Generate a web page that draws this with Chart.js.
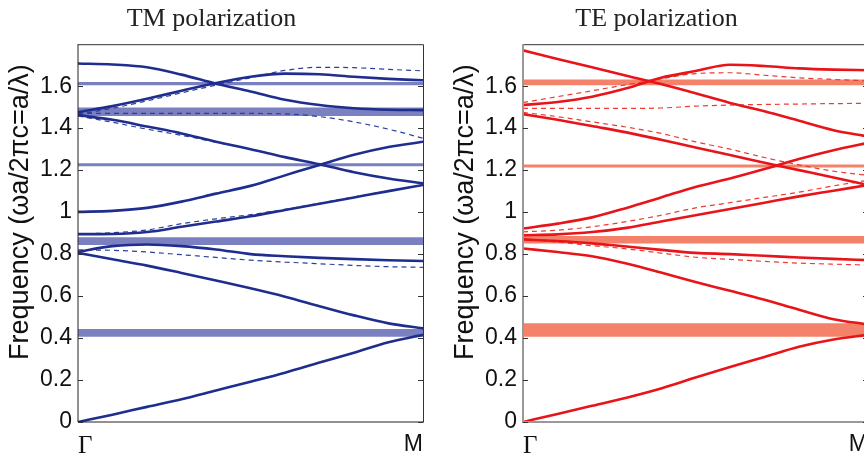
<!DOCTYPE html>
<html>
<head>
<meta charset="utf-8">
<script src="https://cdn.jsdelivr.net/npm/chart.js@4.4.0/dist/chart.umd.min.js"></script>
<style>
  html, body { margin: 0; padding: 0; background: #fff; overflow: hidden; }
  #wrap { position: relative; width: 864px; height: 459px; overflow: hidden; }
  #tm { position: absolute; left: 0; top: 0; }
  #te { position: absolute; left: 432px; top: 0; }
</style>
</head>
<body>
<div id="wrap">
  <canvas id="tm" width="432" height="459"></canvas>
  <canvas id="te" width="448" height="459"></canvas>
</div>
<script>
// wave vector along the Γ -> M direction, normalised to 0..1
var kPath = [0, 0.1, 0.2, 0.3, 0.4, 0.5, 0.6, 0.7, 0.8, 0.9, 1.0];
var freqTicks = [0, 0.2, 0.4, 0.6, 0.8, 1, 1.2, 1.4, 1.6];
var kLabels = ['Γ', 'M'];
var freqTitle = 'Frequency (ωa/2πc=a/λ)';

// TM bands (solid) and the weaker dashed branches
var tm1 = [0, 0.035, 0.072, 0.108, 0.15, 0.192, 0.235, 0.283, 0.33, 0.38, 0.415];
var tm2 = [0.806, 0.775, 0.745, 0.71, 0.674, 0.637, 0.597, 0.552, 0.508, 0.47, 0.446];
var tm3 = [0.811, 0.838, 0.846, 0.838, 0.822, 0.80, 0.79, 0.782, 0.776, 0.771, 0.767];
var tm4 = [0.895, 0.896, 0.905, 0.93, 0.955, 0.98, 1.01, 1.04, 1.07, 1.10, 1.129];
var tm5 = [1.001, 1.006, 1.02, 1.05, 1.088, 1.125, 1.175, 1.225, 1.273, 1.31, 1.335];
var tm6 = [1.462, 1.44, 1.408, 1.375, 1.335, 1.30, 1.262, 1.228, 1.19, 1.16, 1.137];
var tm7 = [1.476, 1.505, 1.54, 1.578, 1.615, 1.645, 1.66, 1.657, 1.645, 1.635, 1.628];
var tm8 = [1.708, 1.703, 1.69, 1.655, 1.612, 1.575, 1.535, 1.51, 1.495, 1.488, 1.486];
var tm3d = [0.82, 0.818, 0.81, 0.797, 0.784, 0.771, 0.762, 0.754, 0.746, 0.74, 0.737];
var tm4d = [0.895, 0.902, 0.915, 0.945, 0.968, 0.988, 1.013, 1.042, 1.072, 1.101, 1.13];
var tm6d = [1.458, 1.428, 1.395, 1.366, 1.333, 1.30, null, null, null, null, null];
var tm7d = [1.465, 1.495, 1.53, 1.568, 1.605, 1.64, 1.675, 1.69, 1.688, 1.68, 1.673];
var tmFd = [1.47, 1.47, 1.47, 1.47, 1.47, 1.47, 1.468, 1.455, 1.43, 1.395, 1.352];
var tmFlat = [[1.605, 1.62], [1.458, 1.498], [1.218, 1.233], [0.843, 0.88], [0.406, 0.443]];

// TE bands
var te1 = [0, 0.038, 0.077, 0.116, 0.16, 0.212, 0.262, 0.31, 0.358, 0.393, 0.415];
var te2 = [0.827, 0.81, 0.79, 0.755, 0.712, 0.667, 0.625, 0.582, 0.535, 0.49, 0.465];
var te3 = [0.87, 0.862, 0.851, 0.836, 0.82, 0.806, 0.80, 0.792, 0.784, 0.777, 0.771];
var te4 = [0.89, 0.894, 0.905, 0.925, 0.955, 0.985, 1.015, 1.045, 1.075, 1.102, 1.129];
var te5 = [0.922, 0.945, 0.975, 1.02, 1.07, 1.12, 1.16, 1.205, 1.253, 1.295, 1.33];
var te6 = [1.467, 1.44, 1.41, 1.38, 1.345, 1.308, 1.272, 1.235, 1.2, 1.165, 1.129];
var te7 = [1.51, 1.525, 1.55, 1.59, 1.64, 1.672, 1.702, 1.696, 1.685, 1.679, 1.676];
var te8 = [1.771, 1.73, 1.69, 1.65, 1.61, 1.566, 1.52, 1.48, 1.435, 1.39, 1.36];
var te3d = [0.87, 0.857, 0.84, 0.825, 0.805, 0.785, 0.775, 0.765, 0.757, 0.752, 0.748];
var te4d = [0.906, 0.914, 0.93, 0.955, 0.985, 1.02, 1.045, 1.07, 1.095, 1.125, 1.152];
var te6d = [1.475, 1.455, 1.43, 1.405, 1.375, 1.335, 1.30, 1.26, 1.225, 1.195, 1.175];
var te7d = [1.522, 1.55, 1.578, 1.607, 1.635, 1.66, 1.664, 1.652, 1.64, 1.632, 1.625];
var teFd = [1.494, 1.494, 1.494, 1.494, 1.496, 1.505, 1.51, 1.513, 1.515, 1.517, 1.518];
var teFlat = [[1.605, 1.632], [1.213, 1.227], [0.851, 0.886], [0.406, 0.47]];

function curve(values, color, dashed) {
  var pts = [];
  kPath.forEach(function(k, i) {
    if (values[i] !== null) pts.push({x: k, y: values[i]});
  });
  return {
    data: pts,
    borderColor: color,
    borderWidth: dashed ? 1.2 : 2.6,
    borderDash: dashed ? [5, 4] : [],
    pointRadius: 0,
    fill: false,
    cubicInterpolationMode: 'monotone',
    order: 1
  };
}

function flatBand(range, color) {
  return {
    data: [{x: 0, y: range[1]}, {x: 1, y: range[1]}],
    borderColor: 'rgba(0,0,0,0)',
    borderWidth: 0,
    pointRadius: 0,
    backgroundColor: color,
    fill: {value: range[0]},
    order: 2
  };
}

// box around the plot with inward tick marks, plus the rotated frequency label
var framePlugin = {
  id: 'frame',
  afterDraw: function(chart, args, o) {
    var ctx = chart.ctx, a = chart.chartArea, y = chart.scales.y;
    ctx.save();
    ctx.strokeStyle = o.color;
    ctx.lineWidth = 1;
    ctx.beginPath();
    ctx.moveTo(a.left, a.top + 0.5);
    ctx.lineTo(a.right + 0.5, a.top + 0.5);
    ctx.lineTo(a.right + 0.5, a.bottom);
    ctx.stroke();
    ctx.strokeStyle = o.axisColor;
    ctx.lineWidth = o.axisWidth;
    ctx.beginPath();
    ctx.moveTo(a.left, a.top);
    ctx.lineTo(a.left, a.bottom);
    ctx.lineTo(a.right + 1, a.bottom);
    ctx.stroke();
    ctx.strokeStyle = o.color;
    ctx.lineWidth = 1;
    freqTicks.forEach(function(v) {
      var py = Math.round(y.getPixelForValue(v)) + 0.5;
      ctx.beginPath();
      ctx.moveTo(a.left, py);
      ctx.lineTo(a.left + 5, py);
      ctx.moveTo(a.right - 5, py);
      ctx.lineTo(a.right, py);
      ctx.stroke();
    });
    // axis label sits a little above the middle of the axis
    ctx.translate(y.left + 21, y.getPixelForValue(1.0));
    ctx.rotate(-Math.PI / 2);
    ctx.fillStyle = '#111';
    ctx.font = '27px "Liberation Sans"';
    ctx.textAlign = 'center';
    ctx.textBaseline = 'middle';
    ctx.fillText(freqTitle, 0, 0);
    ctx.restore();
  }
};

function makePanel(id, title, datasets, opts) {
  return new Chart(document.getElementById(id), {
    type: 'line',
    data: {datasets: datasets},
    plugins: [framePlugin],
    options: {
      responsive: false,
      animation: false,
      layout: {padding: {left: opts.padLeft, right: opts.padRight, top: 0, bottom: 0}},
      plugins: {
        legend: {display: false},
        tooltip: {enabled: false},
        title: {
          display: true,
          text: title,
          color: '#222',
          font: {family: 'Liberation Serif', size: 26, weight: 'normal'},
          padding: {top: 4, bottom: 9}
        },
        frame: {color: '#333', axisColor: opts.axisColor, axisWidth: opts.axisWidth}
      },
      scales: {
        x: {
          type: 'linear',
          min: 0,
          max: 1,
          grid: {display: false, drawTicks: false},
          border: {display: false},
          afterBuildTicks: function(s) { s.ticks = [{value: 0}, {value: 1}]; },
          afterFit: function(s) { s.height = 37; },
          ticks: {
            align: 'inner',
            padding: 9,
            color: '#111',
            maxRotation: 0,
            callback: function(v) { return v === 0 ? kLabels[0] : kLabels[1]; },
            font: function(c) {
              return c.tick && c.tick.value === 0
                ? {family: 'Liberation Serif', size: 25}
                : {family: 'Liberation Sans', size: 23};
            }
          }
        },
        y: {
          min: 0,
          max: 1.8,
          grid: {display: false, drawTicks: false},
          border: {display: false},
          afterBuildTicks: function(s) {
            s.ticks = freqTicks.map(function(v) { return {value: v}; });
          },
          afterFit: function(s) { s.width = 78; },
          ticks: {
            padding: 6,
            color: '#111',
            font: {family: 'Liberation Sans', size: 23},
            callback: function(v) { return String(+v.toFixed(1)); }
          }
        }
      }
    }
  });
}

var tmLine = '#1f2e8e', tmDash = '#2c3fa0', tmFill = '#7b80c0';
var teLine = '#e8141a', teDash = '#ee3a30', teFill = '#f4826a';

var tmSets = [tm1, tm2, tm3, tm4, tm5, tm6, tm7, tm8].map(function(b) { return curve(b, tmLine, false); })
  .concat([tm3d, tm4d, tm6d, tm7d, tmFd].map(function(b) { return curve(b, tmDash, true); }))
  .concat(tmFlat.map(function(r) { return flatBand(r, tmFill); }));

var teSets = [te1, te2, te3, te4, te5, te6, te7, te8].map(function(b) { return curve(b, teLine, false); })
  .concat([te3d, te4d, te6d, te7d, teFd].map(function(b) { return curve(b, teDash, true); }))
  .concat(teFlat.map(function(r) { return flatBand(r, teFill); }));

makePanel('tm', 'TM polarization', tmSets, {padLeft: 0, padRight: 9, axisColor: '#222', axisWidth: 1});
makePanel('te', 'TE polarization', teSets, {padLeft: 13, padRight: 12, axisColor: '#999', axisWidth: 2});
</script>
</body>
</html>
